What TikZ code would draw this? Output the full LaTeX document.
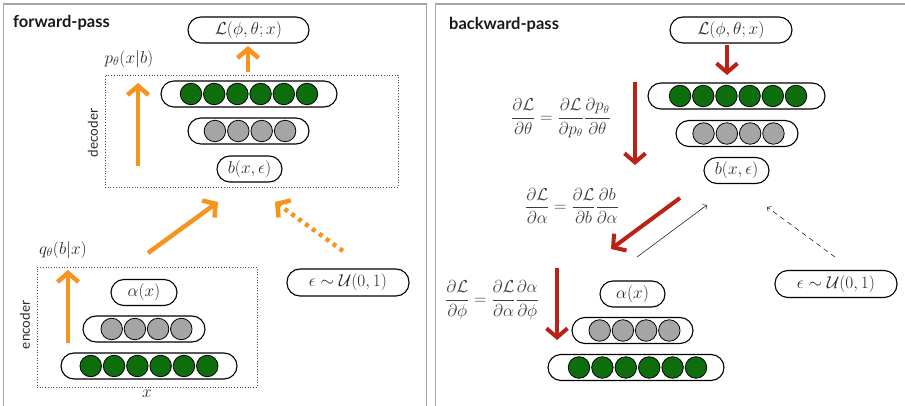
\documentclass[tikz,border=0pt]{standalone}
\usepackage{fontspec}
\setmainfont{Lato}
\setsansfont{Lato}
\usetikzlibrary{arrows.meta}
\definecolor{vorange}{RGB}{247,148,30}
\definecolor{vred}{RGB}{185,35,22}
\definecolor{vgreen}{RGB}{14,110,14}
\definecolor{vgray}{RGB}{165,165,165}
\definecolor{vtext}{RGB}{40,40,40}
\definecolor{vpanel}{RGB}{165,165,165}
\tikzset{
  panel/.style={draw=vpanel, line width=1.4pt},
  pill/.style={draw, line width=1.1pt, rounded corners=13pt, minimum height=26pt, inner sep=0pt, text=vtext, font=\fontsize{18}{20}\selectfont},
  neuron/.style={circle, draw, line width=0.8pt, minimum size=21.5pt, inner sep=0pt},
  gneuron/.style={neuron, fill=vgreen},
  hneuron/.style={neuron, fill=vgray},
  dotbox/.style={draw=black!70, line width=0.7pt, dotted, inner sep=0pt},
  oarrow/.style={draw=vorange, line width=4.5pt, -{Straight Barb[length=9pt,width=21pt]}},
  odotarrow/.style={oarrow, line cap=butt, dash pattern=on 4pt off 4.5pt},
  rarrow/.style={draw=vred, line width=4pt, -{Straight Barb[length=9pt,width=21pt]}},
  thinarrow/.style={draw=black!85, line width=0.6pt, -{Straight Barb[length=3pt,width=6pt]}},
  dasharrow/.style={thinarrow, dash pattern=on 5pt off 4pt},
  lbl/.style={text=vtext, font=\fontsize{18}{20}\selectfont, inner sep=0pt},
  eqn/.style={text=vtext!90, font=\fontsize{16}{18}\selectfont, inner sep=0pt},
  title/.style={text=black!90, font=\fontsize{16.5}{19}\selectfont\bfseries, inner sep=0pt, anchor=west},
  side/.style={text=vtext, font=\fontsize{13.5}{16}\selectfont, inner sep=0pt, rotate=90},
}
\begin{document}
\begin{tikzpicture}[x=1pt,y=-1pt]
\useasboundingbox (0,0) rectangle (905,406);
\begin{scope}
\clip (0,0) rectangle (905,406);
\draw[panel] (3.5,4) rectangle (426.5,430);
\draw[panel] (435.5,4) rectangle (930,430);
\end{scope}

% ---------------- forward pass ----------------
\node[title] (ftitle) at (13,23) {forward-pass};
\node[pill, minimum width=121pt] (fL) at (248.5,30) {$\mathcal{L}(\phi,\theta;x)$};
\node[dotbox, minimum width=293pt, minimum height=112pt] (decbox) at (251.5,131) {};
\node[side] (declbl) at (93,133) {decoder};
\node[lbl] (plbl) at (129,59) {$p_\theta(x|b)$};
\node[pill, minimum width=176pt] (fdg) at (249,94) {};
\foreach \i in {1,...,6} \node[gneuron] (fdg\i) at ({249+(\i-3.5)*23.2},94) {};
\node[pill, minimum width=121pt] (fdh) at (248.5,131) {};
\foreach \i in {1,...,4} \node[hneuron] (fdh\i) at ({250+(\i-2.5)*23.4},131) {};
\node[pill, minimum width=65pt] (fb) at (249.5,169) {$b(x,\epsilon)$};

\node[dotbox, minimum width=220pt, minimum height=120pt] (encbox) at (147,327) {};
\node[side] (enclbl) at (25,325) {encoder};
\node[lbl] (qlbl) at (63,250) {$q_\theta(b|x)$};
\node[pill, minimum width=66pt] (fa) at (144,292.5) {$\alpha(x)$};
\node[pill, minimum width=122pt] (feh) at (144,329) {};
\foreach \i in {1,...,4} \node[hneuron] (feh\i) at ({146.5+(\i-2.5)*23.2},329) {};
\node[pill, minimum width=176pt] (feg) at (149,366) {};
\foreach \i in {1,...,6} \node[gneuron] (feg\i) at ({149+(\i-3.5)*23.3},366) {};
\node[lbl] (xlbl) at (147,394) {$x$};
\node[pill, minimum width=122pt, minimum height=27pt] (feps) at (348,282.5) {$\epsilon\sim\mathcal{U}(0,1)$};

\coordinate (fa1s) at (248,72);  \coordinate (fa1e) at (248,46);
\coordinate (fa2s) at (138,166); \coordinate (fa2e) at (138,83);
\coordinate (fa3s) at (68,343);  \coordinate (fa3e) at (68,270);
\coordinate (fa4s) at (148,253); \coordinate (fa4e) at (218,202);
\coordinate (fa5s) at (343,251); \coordinate (fa5e) at (275,202);
\draw[oarrow] (fa1s) -- (fa1e);
\draw[oarrow] (fa2s) -- (fa2e);
\draw[oarrow] (fa3s) -- (fa3e);
\draw[oarrow] (fa4s) -- (fa4e);
\draw[odotarrow] (fa5s) -- (fa5e);

% ---------------- backward pass ----------------
\node[title] (btitle) at (449,25) {backward-pass};
\node[pill, minimum width=122pt] (bL) at (731,30) {$\mathcal{L}(\phi,\theta;x)$};
\node[pill, minimum width=177pt] (bdg) at (736.5,96) {};
\foreach \i in {1,...,6} \node[gneuron] (bdg\i) at ({738+(\i-3.5)*23.2},96) {};
\node[pill, minimum width=122pt] (bdh) at (737,133.5) {};
\foreach \i in {1,...,4} \node[hneuron] (bdh\i) at ({738.5+(\i-2.5)*23.3},133.5) {};
\node[pill, minimum width=65pt] (bb) at (736.5,170.5) {$b(x,\epsilon)$};

\node[pill, minimum width=65pt] (ba) at (632.5,294) {$\alpha(x)$};
\node[pill, minimum width=121pt] (beh) at (632.5,330.5) {};
\foreach \i in {1,...,4} \node[hneuron] (beh\i) at ({634.5+(\i-2.5)*23.2},330.5) {};
\node[pill, minimum width=176pt] (beg) at (636,367.5) {};
\foreach \i in {1,...,6} \node[gneuron] (beg\i) at ({637.5+(\i-3.5)*23.4},367.5) {};
\node[pill, minimum width=122pt, minimum height=27pt] (beps) at (836,284) {$\epsilon\sim\mathcal{U}(0,1)$};

\node[eqn] (eq1) at (561,118) {$\displaystyle\frac{\partial\mathcal{L}}{\partial\theta}=\frac{\partial\mathcal{L}}{\partial p_\theta}\frac{\partial p_\theta}{\partial\theta}$};
\node[eqn] (eq2) at (572,206) {$\displaystyle\frac{\partial\mathcal{L}}{\partial\alpha}=\frac{\partial\mathcal{L}}{\partial b}\frac{\partial b}{\partial\alpha}$};
\node[eqn] (eq3) at (492,300) {$\displaystyle\frac{\partial\mathcal{L}}{\partial\phi}=\frac{\partial\mathcal{L}}{\partial\alpha}\frac{\partial\alpha}{\partial\phi}$};

\coordinate (ba1s) at (727,45);  \coordinate (ba1e) at (727,75);
\coordinate (ba2s) at (635,82);  \coordinate (ba2e) at (635,165);
\coordinate (ba3s) at (680,198); \coordinate (ba3e) at (611,249);
\coordinate (ba4s) at (557,268); \coordinate (ba4e) at (557,340);
\coordinate (ba5s) at (637,257); \coordinate (ba5e) at (707,205);
\coordinate (ba6s) at (835,257); \coordinate (ba6e) at (767,207);
\draw[rarrow] (ba1s) -- (ba1e);
\draw[rarrow] (ba2s) -- (ba2e);
\draw[rarrow] (ba3s) -- (ba3e);
\draw[rarrow] (ba4s) -- (ba4e);
\draw[thinarrow] (ba5s) -- (ba5e);
\draw[dasharrow] (ba6s) -- (ba6e);
\end{tikzpicture}
\end{document}
